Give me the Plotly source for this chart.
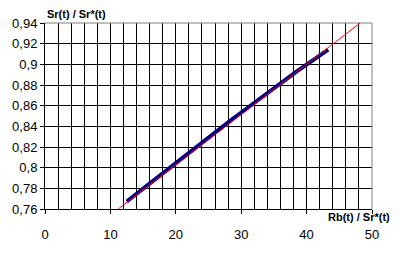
import plotly.graph_objects as go

rb_sr = [12.5, 13.0, 13.8, 14.5, 15.5, 16.5, 17.5, 18.5, 19.5, 20.5, 21.5, 22.5,
         23.5, 24.5, 25.5, 26.5, 27.5, 28.5, 29.5, 30.5, 31.5, 32.5, 33.5, 34.5,
         35.5, 36.5, 37.5, 38.5, 39.5, 40.5, 41.5, 42.5, 43.3]
sr_sr = [0.7673, 0.7695, 0.7740, 0.7772, 0.7822, 0.7872, 0.7921, 0.7970, 0.8019,
         0.8068, 0.8118, 0.8168, 0.8218, 0.8267, 0.8316, 0.8366, 0.8414, 0.8462,
         0.8510, 0.8558, 0.8606, 0.8653, 0.8700, 0.8747, 0.8793, 0.8839, 0.8885,
         0.8931, 0.8975, 0.9018, 0.9062, 0.9108, 0.9142]

# Red reference line endpoints
line_x = [11.2, 48.2]
line_y = [0.76, 0.94]

x_ticks = [0, 10, 20, 30, 40, 50]
x_labels = ["0", "10", "20", "30", "40", "50"]
y_ticks = [0.76, 0.78, 0.80, 0.82, 0.84, 0.86, 0.88, 0.90, 0.92, 0.94]
y_labels = ["0,76", "0,78", "0,8", "0,82", "0,84", "0,86", "0,88", "0,9", "0,92", "0,94"]

fig = go.Figure()
fig.add_trace(go.Scatter(x=rb_sr, y=sr_sr, mode="lines",
                         line=dict(color="#000080", width=4), showlegend=False))
fig.add_trace(go.Scatter(x=line_x, y=line_y, mode="lines",
                         line=dict(color="#ff0000", width=1), showlegend=False))

font = dict(family="Liberation Sans, Arial, sans-serif", size=13, color="black")

fig.update_layout(
    width=400, height=253,
    margin=dict(l=45, r=28, t=23, b=44),
    paper_bgcolor="white", plot_bgcolor="white",
    font=font,
    xaxis=dict(range=[0, 50], tickvals=x_ticks, ticktext=x_labels,
               showgrid=True, gridcolor="black", gridwidth=1,
               minor=dict(dtick=2, showgrid=True, gridcolor="black", gridwidth=1, ticks=""),
               showline=True, linecolor="black", linewidth=1,
               ticks="outside", ticklen=4, tickcolor="black", zeroline=False,
               ticklabelstandoff=9, tickfont=font),
    yaxis=dict(range=[0.76, 0.94], tickvals=y_ticks, ticktext=y_labels,
               showgrid=True, gridcolor="black", gridwidth=1,
               showline=True, linecolor="black", linewidth=1,
               ticks="outside", ticklen=4, tickcolor="black", zeroline=False,
               tickfont=font),
    shapes=[
        dict(type="line", xref="paper", yref="paper", x0=0, x1=1, y0=1, y1=1,
             line=dict(color="#808080", width=1), layer="above"),
        dict(type="line", xref="paper", yref="paper", x0=1, x1=1, y0=0, y1=1,
             line=dict(color="#808080", width=1), layer="above"),
    ],
    annotations=[
        dict(text="<b>Sr(t) / Sr*(t)</b>", xref="paper", yref="paper", x=0, y=1,
             xanchor="left", yanchor="bottom", yshift=1, showarrow=False,
             font=dict(family="Liberation Sans, Arial, sans-serif", size=11, color="black")),
        dict(text="<b>Rb(t) / Sr*(t)</b>", xref="paper", yref="paper", x=1, y=0,
             xanchor="right", yanchor="top", xshift=20, yshift=0, showarrow=False,
             font=dict(family="Liberation Sans, Arial, sans-serif", size=11, color="black")),
    ],
)

fig.write_html("out.html")
